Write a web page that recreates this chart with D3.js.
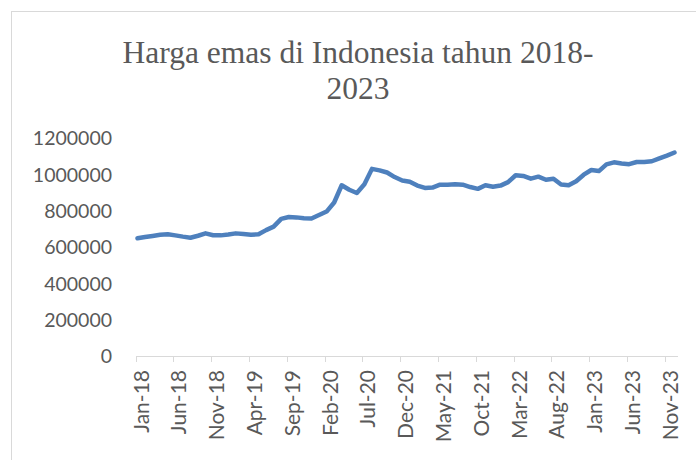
<!DOCTYPE html>
<html>
<head>
<meta charset="utf-8">
<script src="https://cdn.jsdelivr.net/npm/d3@7"></script>
<style>
  body { margin: 0; background: #fff; }
  .axis text { font-family: Lato, "Open Sans", sans-serif; font-size: 19.5px; fill: #595959; }
  .axis text.xl { font-size: 21px; }
  .title { font-family: "Liberation Serif", "Times New Roman", serif; font-size: 31.5px; fill: #595959; }
</style>
</head>
<body>
<div id="chart"></div>
<script>
// months Jan-18 .. Dec-23
var month_names = ["Jan","Feb","Mar","Apr","May","Jun","Jul","Aug","Sep","Oct","Nov","Dec"];
var years = ["18","19","20","21","22","23"];
var months = [];
years.forEach(function(y) {
    month_names.forEach(function(m) { months.push(m + "-" + y); });
});

// harga emas (Rp)
var harga = [
    648000, 655000, 661000, 667000, 670000, 664000, 657000, 651000, 662000, 675000, 665000, 664000,
    669000, 675000, 672000, 668000, 670000, 693000, 712000, 755000, 765000, 763000, 758000, 757000,
    776000, 795000, 845000, 940000, 915000, 897000, 945000, 1030000, 1022000, 1010000, 985000, 966000,
    959000, 938000, 925000, 927000, 943000, 943000, 946000, 943000, 930000, 920000, 940000, 932000,
    938000, 957000, 995000, 991000, 976000, 987000, 970000, 976000, 944000, 940000, 962000, 998000,
    1024000, 1018000, 1055000, 1066000, 1060000, 1056000, 1068000, 1068000, 1072000, 1088000, 1103000, 1120000
];

var y_ticks = [0, 200000, 400000, 600000, 800000, 1000000, 1200000];
var title_lines = ["Harga emas di Indonesia tahun 2018-", "2023"];

var w = 696, h = 460;

var svg = d3.select("#chart")
  .append("svg")
    .attr("width", w)
    .attr("height", h);

// chart frame
svg.append("rect")
    .attr("x", 11.5)
    .attr("y", 11.5)
    .attr("width", 700)
    .attr("height", 460)
    .attr("fill", "none")
    .attr("stroke", "#d9d9d9");

// title
var title = svg.append("text")
    .attr("class", "title")
    .attr("text-anchor", "middle");
title_lines.forEach(function(t, i) {
    title.append("tspan")
        .attr("x", 358)
        .attr("y", 63 + i * 36)
        .text(t);
});

// <-- X AXIS -------------
var x = d3.scalePoint()
    .domain(months)
    .range([137.5, 674.5]);

var y = d3.scaleLinear()
    .domain([0, 1200000])
    .range([356, 138]);

var xaxis = svg.append("g").attr("class", "axis");
xaxis.append("line")
    .attr("x1", x(months[0]) - 1.5)
    .attr("x2", 678)
    .attr("y1", y(0) + 0.5)
    .attr("y2", y(0) + 0.5)
    .attr("stroke", "#d9d9d9")
    .attr("stroke-width", 1);

var shown = months.filter(function(d, i) { return i % 5 == 0; });
xaxis.selectAll(".xtick")
    .data(shown)
    .enter().append("line")
    .attr("x1", function(d) { return Math.round(x(d)) - 1.5; })
    .attr("x2", function(d) { return Math.round(x(d)) - 1.5; })
    .attr("y1", y(0))
    .attr("y2", y(0) + 6)
    .attr("stroke", "#d9d9d9");

xaxis.selectAll(".xlabel")
    .data(shown)
    .enter().append("text")
    .attr("class", "xl")
    .attr("text-anchor", "end")
    .attr("transform", function(d) { return "translate(" + x(d) + ",370) rotate(-90)"; })
    .attr("y", 11)
    .text(function(d) { return d; });
// -- X AXIS ------------->

// <-- Y AXIS -------------
var yaxis = svg.append("g").attr("class", "axis");
yaxis.selectAll("text")
    .data(y_ticks)
    .enter().append("text")
    .attr("x", 112)
    .attr("y", function(d) { return y(d); })
    .attr("dy", "0.38em")
    .attr("text-anchor", "end")
    .text(function(d) { return d; });
// -- Y AXIS ------------->

// line
var line = d3.line()
    .x(function(d, i) { return x(months[i]); })
    .y(function(d) { return y(d); });

svg.append("path")
    .datum(harga)
    .attr("d", line)
    .attr("fill", "none")
    .attr("stroke", "#4e80bd")
    .attr("stroke-width", 4.5)
    .attr("stroke-linejoin", "round")
    .attr("stroke-linecap", "round");
</script>
</body>
</html>
